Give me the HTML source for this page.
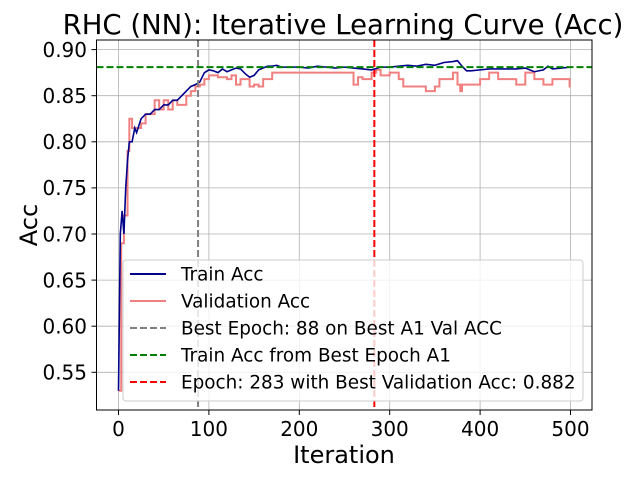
<!DOCTYPE html>
<html><head><meta charset="utf-8"><style>
body{margin:0;background:#fff}
svg{font-family:"DejaVu Sans","Liberation Sans",sans-serif}
</style></head><body>
<svg id="chart" width="636" height="479" xmlns="http://www.w3.org/2000/svg">
<rect width="636" height="479" fill="#fff"/>
<g id="grid"></g>
<g id="ticks"></g>
<g id="series"></g>
<rect x="96.5" y="40" width="495.5" height="370" fill="none" stroke="#000" stroke-width="1"/>
<text x="343" y="34" font-size="27.5" text-anchor="middle">RHC (NN): Iterative Learning Curve (Acc)</text>
<text x="344" y="463" font-size="24" text-anchor="middle">Iteration</text>
<text transform="translate(37,225) rotate(-90)" font-size="24" text-anchor="middle">Acc</text>
<g font-size="18.4">
<rect x="123" y="260" width="460" height="141" rx="3" fill="#fff" fill-opacity="0.8" stroke="#ccc"/>
<g><line x1="130" y1="274" x2="166" y2="274" stroke="#00008b" stroke-width="2"/><text x="181" y="280.5">Train Acc</text></g>
<g><line x1="130" y1="301" x2="166" y2="301" stroke="#f08080" stroke-width="2"/><text x="181" y="307.5">Validation Acc</text></g>
<g><line x1="130" y1="328" x2="166" y2="328" stroke="#808080" stroke-width="2" stroke-dasharray="7,3"/><text x="181" y="334.5">Best Epoch: 88 on Best A1 Val ACC</text></g>
<g><line x1="130" y1="355" x2="166" y2="355" stroke="#008000" stroke-width="2" stroke-dasharray="7,3"/><text x="181" y="361.5">Train Acc from Best Epoch A1</text></g>
<g><line x1="130" y1="382" x2="166" y2="382" stroke="#ff0000" stroke-width="2" stroke-dasharray="7,3"/><text x="181" y="388.5">Epoch: 283 with Best Validation Acc: 0.882</text></g>
</g>
</svg>
<script>
const xTicks=[0,100,200,300,400,500];
const yTicks=[0.55,0.60,0.65,0.70,0.75,0.80,0.85,0.90];
const trainIter=[0,2,4,6,8,10,12,15,18,20,25,30,35,40,45,50,55,60,65,70,75,80,85,90,95,100,105,110,115,120,125,130,135,140,145,150,155,160,165,170,175,180,190,200,210,220,230,240,250,260,270,280,290,300,310,320,330,340,350,360,370,375,380,385,390,400,410,420,430,440,450,460,470,475,480,490,500];
const trainAcc=[0.53,0.70,0.725,0.70,0.75,0.78,0.80,0.80,0.815,0.81,0.825,0.83,0.83,0.835,0.835,0.84,0.84,0.845,0.845,0.85,0.855,0.86,0.862,0.865,0.875,0.878,0.877,0.875,0.879,0.876,0.878,0.88,0.879,0.874,0.87,0.872,0.878,0.88,0.882,0.882,0.883,0.881,0.881,0.881,0.880,0.882,0.881,0.880,0.881,0.880,0.879,0.878,0.881,0.881,0.882,0.883,0.882,0.884,0.883,0.886,0.887,0.888,0.882,0.877,0.877,0.878,0.879,0.879,0.879,0.879,0.880,0.876,0.878,0.882,0.879,0.880,0.881];
const valIter=[0,3,6,10,12,15,20,25,30,35,40,45,50,55,60,65,70,75,80,85,90,95,100,110,120,125,130,135,140,145,150,155,160,170,200,230,255,260,265,270,280,285,290,300,310,315,330,340,350,355,360,370,375,378,380,390,400,410,420,430,440,450,460,470,480,490,499];
const valAcc=[0.53,0.69,0.72,0.79,0.825,0.815,0.815,0.82,0.83,0.83,0.845,0.835,0.845,0.835,0.845,0.84,0.84,0.85,0.855,0.86,0.862,0.868,0.872,0.87,0.868,0.872,0.862,0.868,0.868,0.86,0.862,0.86,0.868,0.875,0.875,0.875,0.875,0.862,0.87,0.868,0.875,0.878,0.872,0.875,0.868,0.86,0.86,0.855,0.86,0.868,0.868,0.875,0.862,0.855,0.862,0.862,0.868,0.875,0.868,0.868,0.862,0.875,0.868,0.862,0.868,0.868,0.86];
const bestEpoch=[88];
const bestTrainAcc=[0.881];
const bestValEpoch=[283];
const NS='http://www.w3.org/2000/svg';
const X=i=>118.5+0.904*i;
const Y=v=>49.6+(0.9-v)*922;
function mk(tag,attrs,parent){const e=document.createElementNS(NS,tag);for(const k in attrs)e.setAttribute(k,attrs[k]);parent.appendChild(e);return e;}
const grid=document.getElementById('grid'),ticks=document.getElementById('ticks'),series=document.getElementById('series');
xTicks.forEach(t=>{const x=X(t);
 const g=mk('line',{x1:x,x2:x,y1:40,y2:410,stroke:'#b0b0b0','stroke-width':0.8},grid);
 
 
 const tk=mk('line',{x1:x,x2:x,y1:410,y2:415,stroke:'#000'},ticks);
 
 
 const tx=mk('text',{x:x,y:436,'font-size':20,'text-anchor':'middle'},ticks);tx.textContent=t;
 
 
});
yTicks.forEach(t=>{const y=Y(t);
 const g=mk('line',{x1:96.5,x2:592,y1:y,y2:y,stroke:'#b0b0b0','stroke-width':0.8},grid);
 
 
 const tk=mk('line',{x1:91.5,x2:96.5,y1:y,y2:y,stroke:'#000'},ticks);
 
 
 const tx=mk('text',{x:87,y:y+7.3,'font-size':20,'text-anchor':'end'},ticks);tx.textContent=t.toFixed(2);
 
 
});
let vp='';valIter.forEach((it,k)=>{vp+=(k?'H'+X(it)+'V':'M'+X(it)+' ')+Y(valAcc[k]);});
vp+='H'+X(500);
const vl=mk('path',{d:vp,fill:'none',stroke:'#f08080','stroke-width':2},series);


const tp=trainIter.map((it,k)=>(k?'L':'M')+X(it)+' '+Y(trainAcc[k])).join('');
const tl=mk('path',{d:tp,fill:'none',stroke:'#00008b','stroke-width':1.6},series);


const gl=mk('line',{x1:X(bestEpoch[0]),x2:X(bestEpoch[0]),y1:40,y2:410,stroke:'#808080','stroke-width':2,'stroke-dasharray':'7,3'},series);


const hl=mk('line',{x1:96.5,x2:592,y1:Y(bestTrainAcc[0]),y2:Y(bestTrainAcc[0]),stroke:'#008000','stroke-width':2,'stroke-dasharray':'7,3'},series);


const rl=mk('line',{x1:X(bestValEpoch[0]),x2:X(bestValEpoch[0]),y1:40,y2:410,stroke:'#ff0000','stroke-width':2,'stroke-dasharray':'7,3'},series);


</script>
</body></html>
